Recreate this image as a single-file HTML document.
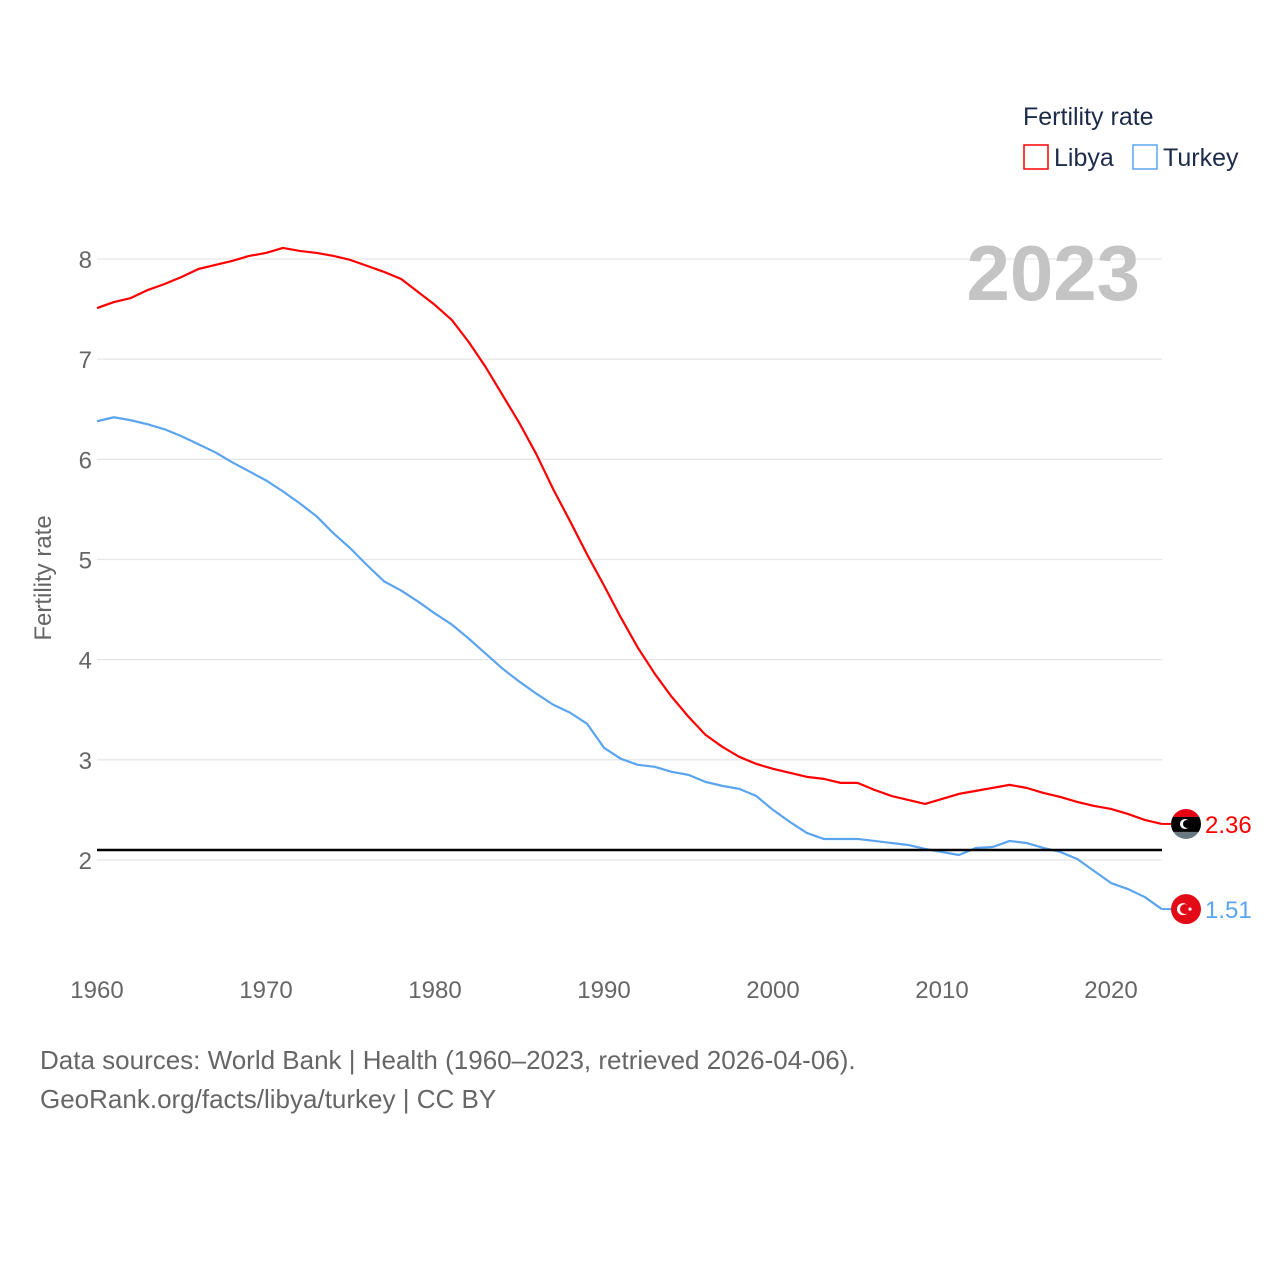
<!DOCTYPE html>
<html><head><meta charset="utf-8"><style>
body{margin:0;background:#fff;font-family:"Liberation Sans",sans-serif;}
svg text{font-family:"Liberation Sans",sans-serif;}
</style></head><body>
<svg id="chart" width="1280" height="1280" viewBox="0 0 1280 1280">
<g id="grid"></g>
<g id="yticks"></g>
<g id="xticks"></g>
<text x="1140" y="300" text-anchor="end" font-size="78" font-weight="bold" fill="#c4c4c4">2023</text>
<text transform="translate(51,578) rotate(-90)" text-anchor="middle" font-size="24" fill="#666">Fertility rate</text>
<g id="series"></g>
<line id="refline" stroke="#000" stroke-width="2.5"/>
<g>
<text x="1023" y="125" font-size="25" fill="#1d2b4a">Fertility rate</text>
<g><rect x="1024" y="145" width="24" height="24" fill="none" stroke="#f00" stroke-width="1.5"/><text x="1054" y="166" font-size="25" fill="#1d2b4a">Libya</text></g>
<g><rect x="1133" y="145" width="24" height="24" fill="none" stroke="#5aa5ee" stroke-width="1.5"/><text x="1163" y="166" font-size="25" fill="#1d2b4a">Turkey</text></g>
</g>
<text x="40" y="1069" font-size="26" fill="#666">Data sources: World Bank | Health (1960–2023, retrieved 2026-04-06).</text>
<text x="40" y="1108" font-size="26" fill="#666">GeoRank.org/facts/libya/turkey | CC BY</text>
</svg>
<script>
const years=[];for(let y=1960;y<=2023;y++)years.push(y);
const libya=[7.51,7.57,7.61,7.69,7.75,7.82,7.90,7.94,7.98,8.03,8.06,8.11,8.08,8.06,8.03,7.99,7.93,7.87,7.80,7.67,7.54,7.39,7.17,6.92,6.64,6.36,6.05,5.70,5.38,5.05,4.74,4.42,4.12,3.86,3.63,3.43,3.25,3.13,3.03,2.96,2.91,2.87,2.83,2.81,2.77,2.77,2.70,2.64,2.60,2.56,2.61,2.66,2.69,2.72,2.75,2.72,2.67,2.63,2.58,2.54,2.51,2.46,2.40,2.36];
const turkey=[6.38,6.42,6.39,6.35,6.30,6.23,6.15,6.07,5.97,5.88,5.79,5.68,5.56,5.43,5.26,5.11,4.94,4.78,4.69,4.58,4.46,4.35,4.21,4.06,3.91,3.78,3.66,3.55,3.47,3.36,3.12,3.01,2.95,2.93,2.88,2.85,2.78,2.74,2.71,2.64,2.50,2.38,2.27,2.21,2.21,2.21,2.19,2.17,2.15,2.11,2.08,2.05,2.12,2.13,2.19,2.17,2.12,2.08,2.01,1.89,1.77,1.71,1.63,1.51];
const yTicks=[2,3,4,5,6,7,8];
const xTicks=[1960,1970,1980,1990,2000,2010,2020];
const replacement=2.1;
const NS="http://www.w3.org/2000/svg";
const X=v=>97+(v-1960)*16.9;
const Y=v=>860-(v-2)*100.17;
function mk(t,a,p){const e=document.createElementNS(NS,t);for(const k in a)e.setAttribute(k,a[k]);p.appendChild(e);return e;}
const grid=document.getElementById('grid'),yt=document.getElementById('yticks'),xt=document.getElementById('xticks'),ser=document.getElementById('series');
yTicks.forEach(v=>{
 const l=mk('line',{x1:97,x2:1162,y1:Y(v),y2:Y(v),stroke:'#e6e6e6','stroke-width':1.3},grid);
 
 
 const t=mk('text',{x:92,y:Y(v)+9,'text-anchor':'end','font-size':24,fill:'#666'},yt);
 t.textContent=v;
 
 
});
xTicks.forEach(v=>{
 const t=mk('text',{x:X(v),y:998,'text-anchor':'middle','font-size':24,fill:'#666'},xt);
 t.textContent=v;
 
 
});
const rl=document.getElementById('refline');
rl.setAttribute('x1',97);rl.setAttribute('x2',1162);rl.setAttribute('y1',Y(replacement));rl.setAttribute('y2',Y(replacement));
function line(data,color,name){
 const p=mk('polyline',{points:data.map((v,i)=>X(years[i])+','+Y(v)).join(' '),fill:'none',stroke:color,'stroke-width':2.2,'stroke-linejoin':'round'},ser);
 
 
 const last=data[data.length-1],ly=Y(last),lx=X(years[years.length-1]);
 mk('line',{x1:lx,x2:1172,y1:ly,y2:ly,stroke:color,'stroke-width':2},ser);
 const g=mk('g',{},ser);
 
 
 if(name==='libya'){
  const cp=mk('clipPath',{id:'cl'},g);
  mk('circle',{cx:1186,cy:ly,r:15},cp);
  const gg=mk('g',{'clip-path':'url(#cl)'},g);
  mk('rect',{x:1171,y:ly-15,width:30,height:8,fill:'#e70013'},gg);
  mk('rect',{x:1171,y:ly-7,width:30,height:15,fill:'#000'},gg);
  mk('rect',{x:1171,y:ly+8,width:30,height:8,fill:'#6a7a80'},gg);
  mk('circle',{cx:1185,cy:ly,r:5,fill:'#fff'},gg);mk('circle',{cx:1187,cy:ly,r:4,fill:'#000'},gg);
 }else{
  mk('circle',{cx:1186,cy:ly,r:15,fill:'#e30a17'},g);
  mk('circle',{cx:1183,cy:ly,r:6,fill:'#fff'},g);mk('circle',{cx:1185,cy:ly,r:5,fill:'#e30a17'},g);
  mk('circle',{cx:1190,cy:ly,r:1.6,fill:'#fff'},g);
 }
 const t=mk('text',{x:1205,y:ly+9,'font-size':24,fill:color},ser);
 t.textContent=last.toFixed(2);
 
 
}
line(turkey,'#5aa5ee','turkey');
line(libya,'#ff0000','libya');
</script>
</body></html>
